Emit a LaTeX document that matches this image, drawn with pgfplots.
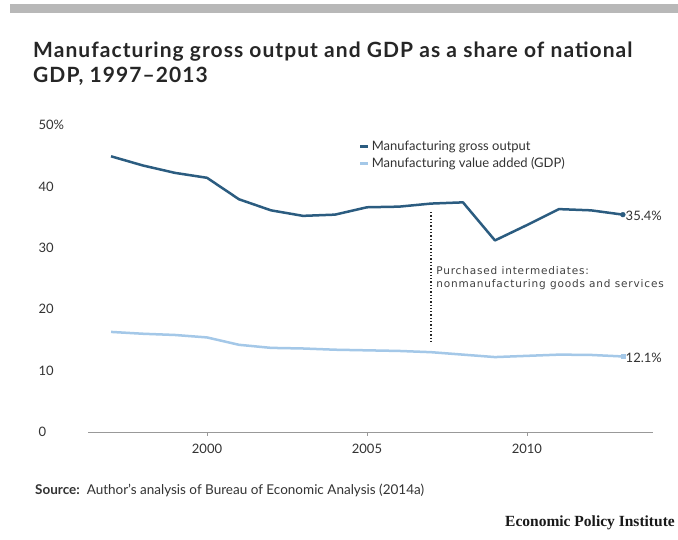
\documentclass[border=0pt]{standalone}
\usepackage{pgfplots}
\pgfplotsset{compat=1.18}
\usepackage{fontspec}
\setmainfont{Lato}
\newfontfamily\titlefont[LetterSpace=5]{Lato}
\newfontfamily\epifont{Liberation Serif}
\newfontfamily\annofont[LetterSpace=8]{DejaVu Sans}
\definecolor{darkblue}{HTML}{2B5C80}
\definecolor{lightblue}{HTML}{A4C8E8}
\definecolor{txt}{HTML}{333333}
\begin{document}
\begin{tikzpicture}
\path[use as bounding box, fill=white] (0pt,0pt) rectangle (678pt,540pt);
\fill[black!28] (10pt,527pt) rectangle (678pt,536pt);
\node[anchor=base west, inner sep=0pt, font=\titlefont\bfseries\fontsize{21}{25}\selectfont, text=black!85] at (33pt,482.3pt)
  {Manufacturing gross output and GDP as a share of national};
\node[anchor=base west, inner sep=0pt, font=\titlefont\bfseries\fontsize{21}{25}\selectfont, text=black!85] at (33pt,457.7pt)
  {GDP, 1997–2013};
\begin{axis}[
  at={(88pt,108pt)}, anchor=south west,
  scale only axis, width=565pt, height=307pt,
  xmin=1996.28, xmax=2013.94, ymin=0, ymax=50,
  axis x line*=bottom, axis y line*=left,
  x axis line style={black!40, line width=0.8pt},
  y axis line style={draw=none},
  xtick={2000,2005,2010},
  xticklabels={2000,2005,2010},
  ytick={0,10,20,30,40,50},
  yticklabels={0,10,20,30,40,50\%},
  xtick style={black!40, line width=0.8pt},
  xtick align=outside, major tick length=4pt,
  ytick style={draw=none},
  xticklabel style={font=\fontsize{13}{15}\selectfont, text=txt, yshift=-5pt},
  yticklabel style={font=\fontsize{13}{15}\selectfont, text=txt, anchor=west, xshift=-53pt},
  legend style={at={(0.474,0.962)}, anchor=north west, draw=none, fill=none,
    font=\fontsize{13}{15}\selectfont, text=txt, row sep=2pt},
  legend cell align=left,
  legend image code/.code={\draw[#1, line width=2.8pt] (0pt,0pt) -- (8pt,0pt);},
  clip=false,
]
\addplot[darkblue, line width=2.5pt, line join=round] coordinates {
(1997,44.9) (1998,43.4) (1999,42.2) (2000,41.4) (2001,37.9) (2002,36.1)
(2003,35.2) (2004,35.4) (2005,36.6) (2006,36.7) (2007,37.2) (2008,37.4)
(2009,31.2) (2010,33.7) (2011,36.3) (2012,36.1) (2013,35.4)};
\addlegendentry{Manufacturing gross output}
\addplot[lightblue, line width=2.5pt, line join=round] coordinates {
(1997,16.3) (1998,16.0) (1999,15.8) (2000,15.4) (2001,14.2) (2002,13.7)
(2003,13.6) (2004,13.4) (2005,13.3) (2006,13.2) (2007,13.0) (2008,12.6)
(2009,12.2) (2010,12.4) (2011,12.6) (2012,12.55) (2013,12.3)};
\addlegendentry{Manufacturing value added (GDP)}
\addplot[darkblue, only marks, mark=*, mark size=2.4pt, forget plot] coordinates {(2013,35.4)};
\addplot[lightblue, only marks, mark=square*, mark size=2.2pt, forget plot] coordinates {(2013,12.3)};
\node[anchor=west, font=\fontsize{13}{15}\selectfont, text=txt, inner sep=1pt] at (axis cs:2013.05,35.2) {35.4\%};
\node[anchor=west, font=\fontsize{13}{15}\selectfont, text=txt, inner sep=1pt] at (axis cs:2013.05,12.1) {12.1\%};
\draw[black!85, line width=1.3pt, dotted] (axis cs:2007,35.8) -- (axis cs:2007,14.7);
\node[anchor=north west, inner sep=0pt, align=left, font=\annofont\fontsize{10.5}{13.5}\selectfont, text=black!75] at (axis cs:2007.16,27.0)
  {Purchased intermediates:\\nonmanufacturing goods and services};
\end{axis}
\node[anchor=base west, inner sep=0pt, font=\fontsize{13.5}{15}\selectfont, text=txt] at (35pt,45pt)
  {\textbf{Source:}\ \ Author's analysis of Bureau of Economic Analysis (2014a)};
\node[anchor=base east, inner sep=0pt, font=\epifont\bfseries\fontsize{15.5}{18}\selectfont, text=black!90] at (675pt,13pt)
  {Economic Policy Institute};
\end{tikzpicture}
\end{document}
